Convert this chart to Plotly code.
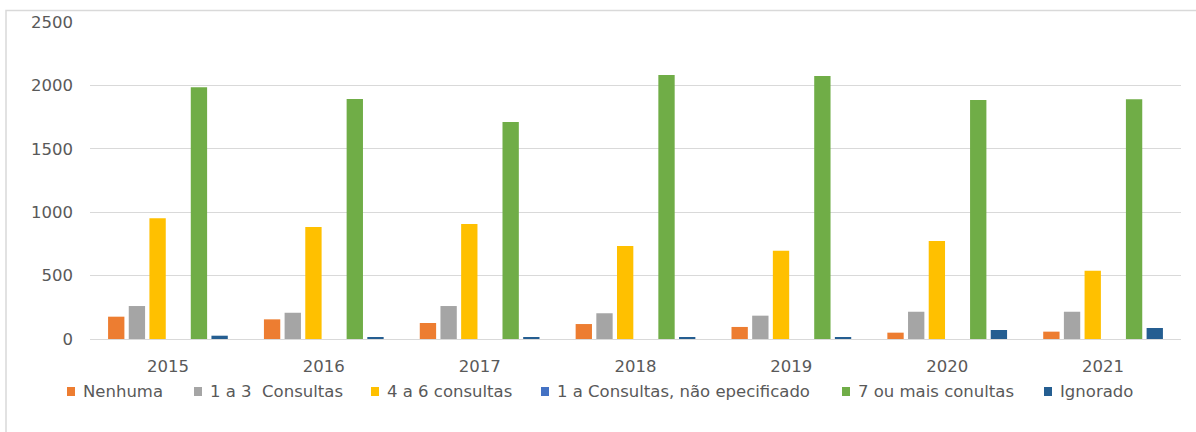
import plotly.graph_objects as go

years = ["2015", "2016", "2017", "2018", "2019", "2020", "2021"]
series_names = ["Nenhuma", "1 a 3  Consultas", "4 a 6 consultas",
                "1 a Consultas, não epecificado", "7 ou mais conultas", "Ignorado"]
nenhuma = [176, 155, 126, 118, 95, 50, 58]
um_a_tres = [260, 207, 260, 203, 184, 215, 215]
quatro_a_seis = [952, 883, 907, 733, 696, 773, 539]
nao_especificado = [0, 0, 0, 0, 0, 0, 0]
sete_ou_mais = [1985, 1893, 1711, 2082, 2074, 1885, 1890]
ignorado = [26, 9, 9, 9, 8, 71, 87]
y_ticks = [0, 500, 1000, 1500, 2000, 2500]

values = [nenhuma, um_a_tres, quatro_a_seis, nao_especificado, sete_ou_mais, ignorado]
colors = ["#ED7D31", "#A5A5A5", "#FFC000", "#4472C4", "#70AD47", "#255E91"]

W, H = 1196, 432
L, R, T, B = 90, 15, 22, 93
PW, PH = W - L - R, H - T - B

def px_x(x):
    return (x - L) / PW

def px_y(y):
    return (H - B - y) / PH

FONT = "DejaVu Sans"
TXT = "#595959"

fig = go.Figure()
for name, vals, col in zip(series_names, values, colors):
    fig.add_trace(go.Bar(x=years, y=vals, name=name, marker_color=col,
                         marker_line_width=0, showlegend=False))

# custom legend (marker square + real text)
leg_marker_left = [67, 194, 371, 541, 842, 1044]
leg_y = 391.5
shapes = []
annotations = []
for name, col, mx in zip(series_names, colors, leg_marker_left):
    shapes.append(dict(type="rect", xref="paper", yref="paper",
                       x0=px_x(mx), x1=px_x(mx + 8), y0=px_y(leg_y + 4.5), y1=px_y(leg_y - 4.5),
                       fillcolor=col, line_width=0))
    annotations.append(dict(xref="paper", yref="paper", x=px_x(mx + 14), y=px_y(leg_y),
                            xanchor="left", yanchor="middle", text=name, showarrow=False,
                            font=dict(family=FONT, size=16.5, color=TXT)))

# chart border
shapes.append(dict(type="rect", xref="paper", yref="paper", layer="below",
                   x0=px_x(6), x1=1.3, y0=-0.6, y1=px_y(10.5),
                   line=dict(color="#D9D9D9", width=1.5), fillcolor="rgba(0,0,0,0)"))

fig.update_layout(
    width=W, height=H,
    margin=dict(l=L, r=R, t=T, b=B),
    paper_bgcolor="white", plot_bgcolor="white",
    barmode="group", bargap=0.204, bargroupgap=0.21,
    shapes=shapes, annotations=annotations,
    font=dict(family=FONT, size=16, color=TXT),
    xaxis=dict(showgrid=False, showline=False, ticks="outside", ticklen=0,
               ticklabelstandoff=12, tickfont=dict(family=FONT, size=16.5, color=TXT)),
    yaxis=dict(range=[0, 2500], tickvals=y_ticks, showgrid=True, gridcolor="#D9D9D9",
               gridwidth=1, zeroline=True, zerolinecolor="#D9D9D9", zerolinewidth=1,
               showline=False, ticks="", ticklabelstandoff=16,
               tickfont=dict(family=FONT, size=16.5, color=TXT)),
)

fig.write_html("out.html")
